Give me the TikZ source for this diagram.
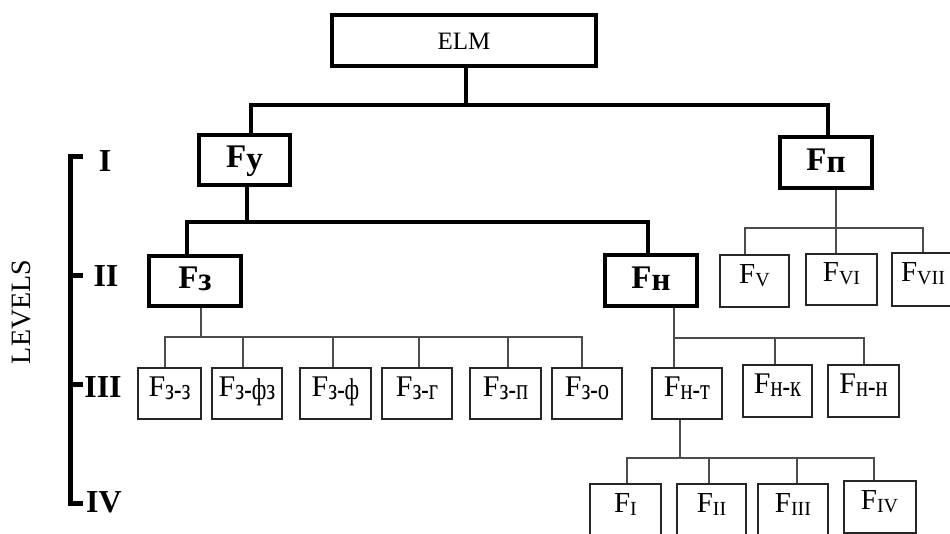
\documentclass[tikz,border=0pt]{standalone}
\usepackage{fontspec}
\usepackage{graphicx}
\setmainfont{Liberation Serif}

% F with a bold lower-case subscript (upper levels)
\newcommand\boldF[1]{{\fontsize{33}{36}\selectfont\bfseries F\raisebox{-2pt}{#1}}}
% F with a plain, narrowed lower-case subscript (lower levels)
\newcommand\plainF[1]{{\fontsize{30}{32}\selectfont F\raisebox{-3pt}{\scalebox{0.75}[1]{#1}}}}
% F with a Roman-numeral subscript
\newcommand\numF[1]{{\fontsize{29}{31}\selectfont F\raisebox{-3pt}{\fontsize{20}{22}\selectfont #1}}}

\tikzset{
  bigbox/.style={draw=black, line width=4pt, inner sep=0pt,
                 text height=22pt, text depth=6pt},
  smallbox/.style={draw=black!85, line width=2pt, inner sep=0pt,
                   text height=15pt, text depth=10pt},
  heavy/.style={draw=black, line width=4pt},
  light/.style={draw=black!70, line width=2pt},
  lvl/.style={font=\fontsize{32}{34}\selectfont\bfseries, inner sep=0pt},
}

\begin{document}
\begin{tikzpicture}[x=1pt,y=-1pt]
\useasboundingbox (0,0) rectangle (950,534);
\clip (0,0) rectangle (950,534);

% ---- root ----
\node[bigbox, minimum width=264, minimum height=51,
      font=\fontsize{25}{27}\selectfont, text height=19pt, text depth=0pt]
      (elm) at (464,40.5) {ELM};

% ---- level I ----
\node[bigbox, minimum width=91, minimum height=50] (fy) at (244.5,160) {\boldF{у}};
\node[bigbox, minimum width=92, minimum height=51] (fp) at (826,162.5) {\boldF{п}};

% ---- level II ----
\node[bigbox, minimum width=92, minimum height=50] (fz) at (195,281) {\boldF{з}};
\node[bigbox, minimum width=92, minimum height=51] (fh) at (651,280.5) {\boldF{н}};
\node[smallbox, minimum width=69, minimum height=52] (fv)   at (754.5,281)   {\numF{V}};
\node[smallbox, minimum width=71, minimum height=51] (fvi)  at (841.5,279.5) {\numF{VI}};
\node[smallbox, minimum width=62, minimum height=53] (fvii) at (923,279.5)   {\numF{VII}};

% ---- level III ----
\node[smallbox, minimum width=63, minimum height=51] (zz)  at (169.5,393.5) {\plainF{з-з}};
\node[smallbox, minimum width=70, minimum height=51] (zfz) at (247,393.5)   {\plainF{з-фз}};
\node[smallbox, minimum width=71, minimum height=51] (zf)  at (335.5,393.5) {\plainF{з-ф}};
\node[smallbox, minimum width=70, minimum height=51] (zg)  at (417,393.5)   {\plainF{з-г}};
\node[smallbox, minimum width=71, minimum height=51] (zp)  at (505.5,393.5) {\plainF{з-п}};
\node[smallbox, minimum width=70, minimum height=51] (zo)  at (587,393.5)   {\plainF{з-о}};
\node[smallbox, minimum width=70, minimum height=51] (ht)  at (687,393.5)   {\plainF{н-т}};
\node[smallbox, minimum width=69, minimum height=52] (hk)  at (777.5,391)   {\plainF{н-к}};
\node[smallbox, minimum width=71, minimum height=52] (hh)  at (863.5,391)   {\plainF{н-н}};

% ---- level IV ----
\node[smallbox, minimum width=71, minimum height=52] (f1) at (625.5,510) {\numF{I}};
\node[smallbox, minimum width=69, minimum height=52] (f2) at (711.5,510) {\numF{II}};
\node[smallbox, minimum width=70, minimum height=52] (f3) at (793,510)   {\numF{III}};
\node[smallbox, minimum width=72, minimum height=52] (f4) at (879.5,507) {\numF{IV}};

% ---- connectors: root to level I ----
\coordinate (bus0) at (466,105);
\draw[heavy] (bus0 |- elm.south) -- (bus0);
\draw[heavy] ([xshift=6]fy.north) |- (bus0);
\draw[heavy] ([xshift=2]fp.north) |- (bus0);

% ---- level I to level II ----
\coordinate (bus1) at (247,222);
\draw[heavy] (bus1 |- fy.south) -- (bus1);
\draw[heavy] ([xshift=-8]fz.north) |- (bus1);
\draw[heavy] ([xshift=-3]fh.north) |- (bus1);

\coordinate (bus2) at (836,228);
\draw[light] (bus2 |- fp.south) -- (bus2);
\draw[light] ([xshift=-9.5]fv.north) |- (bus2);
\draw[light] ([xshift=-5.5]fvi.north) |- (bus2);
\draw[light] (fvii.north) |- (bus2);

% ---- level II to level III ----
\coordinate (bus3) at (201,337);
\draw[light] (bus3 |- fz.south) -- (bus3);
\draw[light] ([xshift=-4.5]zz.north) |- (bus3);
\draw[light] ([xshift=-4]zfz.north) |- (bus3);
\draw[light] ([xshift=-2.5]zf.north) |- (bus3);
\draw[light] ([xshift=2]zg.north) |- (bus3);
\draw[light] ([xshift=2.5]zp.north) |- (bus3);
\draw[light] ([xshift=-5]zo.north) |- (bus3);

\coordinate (bus4) at (674,338);
\draw[light] (bus4 |- fh.south) -- (bus4);
\draw[light] ([xshift=-13]ht.north) |- (bus4);
\draw[light] ([xshift=-2.5]hk.north) |- (bus4);
\draw[light] ([xshift=0.5]hh.north) |- (bus4);

% ---- level III to level IV ----
\coordinate (bus5) at (680,458);
\draw[light] (bus5 |- ht.south) -- (bus5);
\draw[light] ([xshift=1.5]f1.north) |- (bus5);
\draw[light] ([xshift=-2.5]f2.north) |- (bus5);
\draw[light] ([xshift=4]f3.north) |- (bus5);
\draw[light] ([xshift=-5.5]f4.north) |- (bus5);

% ---- level scale ----
\node[rotate=90, inner sep=0pt, font=\fontsize{28}{30}\selectfont] (levels) at (21,312) {LEVELS};
\node[lvl] (lv1) at (105,161)   {I};
\node[lvl] (lv2) at (106,276)   {II};
\node[lvl] (lv3) at (103,387.5) {III};
\node[lvl] (lv4) at (104,502.5) {IV};
\draw[line width=5pt] (83,157) -- (70.5,157) -- (70.5,503.5) -- (83,503.5);
\draw[line width=5pt] (70.5,275.5) -- (83,275.5);
\draw[line width=5pt] (70.5,384.5) -- (83,384.5);
\end{tikzpicture}
\end{document}
